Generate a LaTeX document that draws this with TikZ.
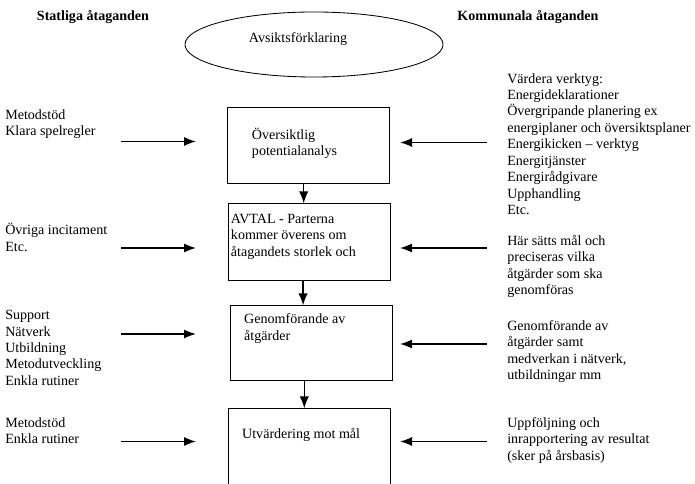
\documentclass[tikz,border=0pt]{standalone}
\usepackage{fontspec}
\setmainfont{Liberation Serif}
\usetikzlibrary{arrows.meta,shapes.geometric}

\tikzset{
  ruta/.style={draw, line width=0.7pt, rectangle, inner sep=0pt, font=\fontsize{10}{11.7}\selectfont},
  pil/.style={line width=1.1pt, -{Latex[length=0.3cm,width=0.23cm]}},
  lista/.style={anchor=north west, align=left, inner sep=0pt, font=\fontsize{10}{11.7}\selectfont},
  rubrik/.style={inner sep=0pt, font=\fontsize{10}{12}\selectfont\bfseries}
}
% box text: height, indent, top gap, lines
\newcommand{\inruta}[4]{\parbox[c][#1][t]{4.025cm}{\vspace*{#3}\hspace*{#2}\begin{tabular}{@{}l@{}}#4\end{tabular}}}

\begin{document}
\begin{tikzpicture}[x=0.025cm, y=-0.025cm]
        \useasboundingbox (0,0) rectangle (695,484);
        \clip (0,0) rectangle (695,484);

        % headings
        \node[rubrik] (stat) at (93,17) {Statliga åtaganden};
        \node[rubrik] (komm) at (528,17) {Kommunala åtaganden};

        \node[draw, ellipse, line width=0.6pt, minimum width=6.45cm, minimum height=1.625cm] (avsikt) at (314,44.5) {};
        \node[font=\fontsize{10}{12}\selectfont] (avsikttext) at (298,39) {Avsiktsförklaring};

        % middle column
        \node[ruta] (b1) at (308.5,145.5) {\inruta{1.875cm}{0.6cm}{0.5cm}{Översiktlig\\potentialanalys}};
        \node[ruta] (b2) at (309.5,242) {\inruta{1.9cm}{0.05cm}{0.19cm}{AVTAL - Parterna\\kommer överens om\\åtagandets storlek och}};
        \node[ruta] (b3) at (311.5,343) {\inruta{1.85cm}{0.33cm}{0.16cm}{Genomförande av\\åtgärder}};
        \node[ruta] (b4) at (309.5,454.5) {\inruta{2.275cm}{0.33cm}{0.44cm}{Utvärdering mot mål}};

        \draw[pil] ([xshift=-0.12cm]b1.south) -- ([xshift=-0.12cm]b1.south |- b2.north);
        \draw[pil] ([xshift=-0.16cm]b2.south) -- ([xshift=-0.16cm]b2.south |- b3.north);
        \draw[pil] ([xshift=-0.18cm]b3.south) -- ([xshift=-0.18cm]b3.south |- b4.north);

        % left side
        \node[lista] (stod1) at (5,109) {Metodstöd\\Klara spelregler};
        \node[lista] (stod2) at (5,223) {Övriga incitament\\Etc.};
        \node[lista] (stod3) at (5,310) {Support\\Nätverk\\Utbildning\\Metodutveckling\\Enkla rutiner};
        \node[lista] (stod4) at (5,417) {Metodstöd\\Enkla rutiner};

        \coordinate (vs1) at (121,141.5);  \coordinate (ve1) at (196,141.5);
        \coordinate (vs2) at (121,248);    \coordinate (ve2) at (196,248);
        \coordinate (vs3) at (121,334);    \coordinate (ve3) at (196,334);
        \coordinate (vs4) at (121,441.5);  \coordinate (ve4) at (196,441.5);
        \draw[pil] (vs1) -- (ve1);
        \draw[pil] (vs2) -- (ve2);
        \draw[pil] (vs3) -- (ve3);
        \draw[pil] (vs4) -- (ve4);

        % right side
        \node[lista] (kom1) at (507,73) {Värdera verktyg:\\Energideklarationer\\Övergripande planering ex\\energiplaner och översiktsplaner\\Energikicken -- verktyg\\Energitjänster\\Energirådgivare\\Upphandling\\Etc.};
        \node[lista] (kom2) at (507,235) {Här sätts mål och\\preciseras vilka\\åtgärder som ska\\genomföras};
        \node[lista] (kom3) at (507,320) {Genomförande av\\åtgärder samt\\medverkan i nätverk,\\utbildningar mm};
        \node[lista] (kom4) at (507,417) {Uppföljning och\\inrapportering av resultat\\(sker på årsbasis)};

        \coordinate (hs1) at (487,142.5);  \coordinate (he1) at (400,142.5);
        \coordinate (hs2) at (487,248);    \coordinate (he2) at (400,248);
        \coordinate (hs3) at (487,344);    \coordinate (he3) at (400,344);
        \coordinate (hs4) at (487,441.5);  \coordinate (he4) at (400,441.5);
        \draw[pil] (hs1) -- (he1);
        \draw[pil] (hs2) -- (he2);
        \draw[pil] (hs3) -- (he3);
        \draw[pil] (hs4) -- (he4);
    \end{tikzpicture}
\end{document}
